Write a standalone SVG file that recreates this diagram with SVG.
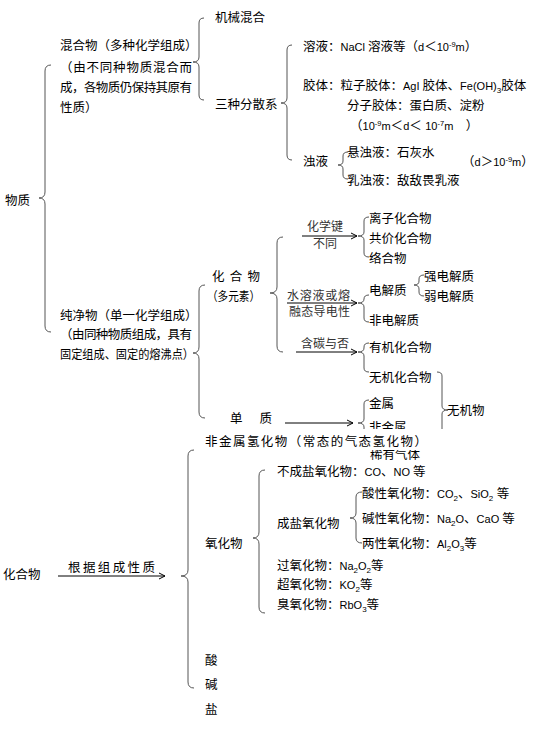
<svg xmlns="http://www.w3.org/2000/svg" width="541" height="730" viewBox="0 0 541 730">
<style>
.t{font-family:"Liberation Sans","Noto Sans CJK SC",sans-serif;font-size:12.5px;fill:#000}
.lb{font-family:"Liberation Sans","Noto Sans CJK SC",sans-serif;font-size:12px;fill:#333}
.la{font-size:11px}
.sb{font-size:8px;baseline-shift:-3px}
.sp{font-size:7.5px;baseline-shift:4px}
.br{fill:none;stroke:#555;stroke-width:1}
.ar{fill:none;stroke:#000;stroke-width:1;marker-end:url(#ah)}
</style>
<defs>
<marker id="ah" viewBox="0 0 8 8" refX="7" refY="4" markerWidth="8" markerHeight="8" markerUnits="userSpaceOnUse" orient="auto"><path d="M1,1 L7,4 L1,7" fill="none" stroke="#000" stroke-width="1"/></marker>
<clipPath id="cTop"><rect x="0" y="0" width="541" height="429"/></clipPath>
<clipPath id="cRare"><rect x="0" y="450" width="541" height="20"/></clipPath>
</defs>
<rect width="541" height="730" fill="#fff"/>

<g id="connectors">
<path class="br" d="M51,65 Q45,65 45,71 L45,192 Q45,198 39,198 Q45,198 45,204 L45,326 Q45,332 51,332"/>
<path class="br" d="M204,18 Q199,18 199,23 L199,57 Q199,62 193,62 Q199,62 199,67 L199,95 Q199,100 204,100"/>
<path class="br" d="M292,45 Q287,45 287,50 L287,98 Q287,103 281,103 Q287,103 287,108 L287,155 Q287,160 292,160"/>
<path class="br" d="M348,152 Q343,152 343,156 L343,161 Q343,165 338,165 Q343,165 343,169 L343,175 Q343,179 348,179"/>
<path class="br" d="M205,285 Q199,285 199,291 L199,347 Q199,353 193,353 Q199,353 199,359 L199,412 Q199,418 205,418"/>
<path class="br" d="M283,237 Q277,237 277,243 L277,287 Q277,293 270,293 Q277,293 277,299 L277,346 Q277,352 283,352"/>
<path class="br" d="M369,217 Q364,217 364,221 L364,232 Q364,236 358,236 Q364,236 364,240 L364,253 Q364,257 369,257"/>
<path class="br" d="M369,295 Q364,295 364,299 Q364,303 358,303 Q364,303 364,307 L364,318 Q364,322 369,322"/>
<path class="br" d="M424,275 Q419,275 419,279 L419,281 Q419,285 414,285 Q419,285 419,289 L419,292 Q419,296 424,296"/>
<path class="br" d="M369,343 Q364,343 364,347 L364,348 Q364,352 358,352 Q364,352 364,356 L364,368 Q364,372 369,372"/>
<path class="br" clip-path="url(#cTop)" d="M369,400 Q364,400 364,404 L364,419 Q364,423 358,423 Q364,423 364,427 L364,442 Q364,446 369,446"/>
<path class="br" clip-path="url(#cTop)" d="M437,372 Q442,372 442,376 L442,406 Q442,410 448,410 Q442,410 442,414 L442,444 Q442,448 437,448"/>
<path class="br" d="M194,450 Q188,450 188,456 L188,570 Q188,576 181,576 Q188,576 188,582 L188,682 Q188,688 194,688"/>
<path class="br" d="M265,470 Q259,470 259,476 L259,532 Q259,538 253,538 Q259,538 259,544 L259,607 Q259,613 265,613"/>
<path class="br" d="M362,492 Q356,492 356,497 L356,513 Q356,518 350,518 Q356,518 356,523 L356,538 Q356,543 362,543"/>
<line class="ar" x1="302" y1="236" x2="357" y2="236"/>
<line class="ar" x1="287" y1="303" x2="357" y2="303"/>
<line class="ar" x1="296" y1="352" x2="357" y2="352"/>
<line class="ar" x1="285" y1="423" x2="353" y2="423"/>
<line class="ar" x1="58" y1="576" x2="165" y2="576"/>
<text class="lb" x="307" y="231">化学键</text>
<text class="lb" x="313" y="248">不同</text>
<text class="lb" x="287" y="300" textLength="63" lengthAdjust="spacing">水溶液或熔</text>
<text class="lb" x="289" y="316" textLength="61" lengthAdjust="spacing">融态导电性</text>
<text class="lb" x="301" y="348">含碳与否</text>
<text class="t" x="68" y="571.5" textLength="87" lengthAdjust="spacing">根据组成性质</text>
</g>

<g id="n-wuzhi"><text class="t" x="5" y="204.5">物质</text></g>
<g id="n-hunhewu">
<text class="t" x="60" y="50">混合物（多种化学组成）</text>
<text class="t" x="60" y="71.5" textLength="132" lengthAdjust="spacing">（由不同种物质混合而</text>
<text class="t" x="60" y="91.5" textLength="132" lengthAdjust="spacing">成，各物质仍保持其原有</text>
<text class="t" x="60" y="111.5">性质）</text>
</g>
<g id="n-jixie"><text class="t" x="215" y="21.5">机械混合</text></g>
<g id="n-fensan"><text class="t" x="215" y="108.5">三种分散系</text></g>
<g id="n-rongye"><text class="t" x="303" y="50.5">溶液：<tspan class="la">NaCl </tspan>溶液等（<tspan class="la">d</tspan>＜<tspan class="la">10</tspan><tspan class="sp">-9</tspan><tspan class="la">m</tspan>）</text></g>
<g id="n-jiaoti">
<text class="t" x="303" y="89.5">胶体：粒子胶体：<tspan class="la">AgI </tspan>胶体、<tspan class="la">Fe(OH)</tspan><tspan class="sb">3</tspan>胶体</text>
<text class="t" x="347" y="109.5">分子胶体：蛋白质、淀粉</text>
<text class="t" x="350" y="129.5">（<tspan class="la">10</tspan><tspan class="sp">-9</tspan><tspan class="la">m</tspan>＜<tspan class="la">d</tspan>＜ <tspan class="la">10</tspan><tspan class="sp">-7</tspan><tspan class="la">m</tspan>　）</text>
</g>
<g id="n-zhuoye"><text class="t" x="303" y="165.5">浊液</text></g>
<g id="n-xuanzhuo"><text class="t" x="347" y="156.5">悬浊液：石灰水</text></g>
<g id="n-ruzhuo"><text class="t" x="347" y="184.5">乳浊液：敌敌畏乳液</text></g>
<g id="n-zhuod"><text class="t" x="462" y="165.5">（<tspan class="la">d</tspan>＞<tspan class="la">10</tspan><tspan class="sp">-9</tspan><tspan class="la">m</tspan>）</text></g>

<g id="n-chunjing">
<text class="t" x="60" y="319.5">纯净物（单一化学组成）</text>
<text class="t" x="60" y="338.5" textLength="132" lengthAdjust="spacing">（由同种物质组成，具有</text>
<text class="t" x="60" y="358.5" textLength="134" lengthAdjust="spacingAndGlyphs">固定组成、固定的熔沸点）</text>
</g>
<g id="n-huahewu">
<text class="t" x="212" y="280.5" textLength="48" lengthAdjust="spacing">化合物</text>
<text class="t" x="207" y="300.5" textLength="53" lengthAdjust="spacingAndGlyphs">（多元素）</text>
</g>
<g id="n-danzhi"><text class="t" x="230" y="422.5" textLength="42" lengthAdjust="spacing">单　质</text></g>
<g id="n-qinghua"><text class="t" x="205" y="445.5" textLength="222" lengthAdjust="spacing">非金属氢化物（常态的气态氢化物）</text></g>
<g id="n-lizi"><text class="t" x="369" y="222.5">离子化合物</text></g>
<g id="n-gongjia"><text class="t" x="369" y="242.5">共价化合物</text></g>
<g id="n-luohe"><text class="t" x="369" y="262.5">络合物</text></g>
<g id="n-dianjie"><text class="t" x="369" y="294.5">电解质</text></g>
<g id="n-feidianjie"><text class="t" x="369" y="324.5">非电解质</text></g>
<g id="n-qiang"><text class="t" x="424" y="280.5">强电解质</text></g>
<g id="n-ruo"><text class="t" x="424" y="300.5">弱电解质</text></g>
<g id="n-youji"><text class="t" x="369" y="351.5">有机化合物</text></g>
<g id="n-wuji"><text class="t" x="369" y="381.5">无机化合物</text></g>
<g id="n-wujiwu"><text class="t" x="447" y="414.5">无机物</text></g>
<g id="n-jinshu"><text class="t" x="369" y="407.5">金属</text></g>
<g id="n-feijinshu"><text class="t" x="369" y="431.5" clip-path="url(#cTop)">非金属</text></g>
<g id="n-xiyou"><text class="t" x="370" y="459" clip-path="url(#cRare)">稀有气体</text></g>

<g id="n-huahewu2"><text class="t" x="3" y="578.5">化合物</text></g>
<g id="n-yanghua"><text class="t" x="205" y="547.5">氧化物</text></g>
<g id="n-suan"><text class="t" x="205" y="664.5">酸</text></g>
<g id="n-jian"><text class="t" x="205" y="688.5">碱</text></g>
<g id="n-yan"><text class="t" x="205" y="713.5">盐</text></g>
<g id="n-buchengyan"><text class="t" x="277" y="475.5">不成盐氧化物：<tspan class="la">CO</tspan>、<tspan class="la">NO </tspan>等</text></g>
<g id="n-chengyan"><text class="t" x="277" y="527.5">成盐氧化物</text></g>
<g id="n-suanxing"><text class="t" x="362" y="497.5">酸性氧化物：<tspan class="la">CO</tspan><tspan class="sb">2</tspan>、<tspan class="la">SiO</tspan><tspan class="sb">2</tspan> 等</text></g>
<g id="n-jianxing"><text class="t" x="362" y="522.5">碱性氧化物：<tspan class="la">Na</tspan><tspan class="sb">2</tspan><tspan class="la">O</tspan>、<tspan class="la">CaO </tspan>等</text></g>
<g id="n-liangxing"><text class="t" x="362" y="547.5">两性氧化物：<tspan class="la">Al</tspan><tspan class="sb">2</tspan><tspan class="la">O</tspan><tspan class="sb">3</tspan>等</text></g>
<g id="n-guoyang"><text class="t" x="277" y="569.5">过氧化物：<tspan class="la">Na</tspan><tspan class="sb">2</tspan><tspan class="la">O</tspan><tspan class="sb">2</tspan>等</text></g>
<g id="n-chaoyang"><text class="t" x="277" y="588.5">超氧化物：<tspan class="la">KO</tspan><tspan class="sb">2</tspan>等</text></g>
<g id="n-chouyang"><text class="t" x="277" y="608.5">臭氧化物：<tspan class="la">RbO</tspan><tspan class="sb">3</tspan>等</text></g>
</svg>
